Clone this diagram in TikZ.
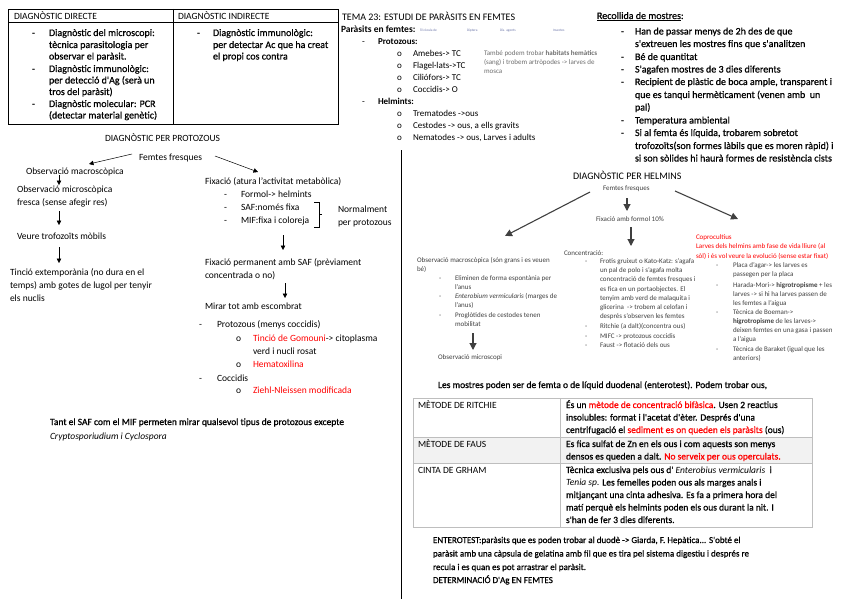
\documentclass[tikz,border=0pt]{standalone}
\usepackage{fontspec}
\setmainfont{Carlito}
\newfontfamily\hvfam[FakeBold=0.7]{Carlito}
\usetikzlibrary{arrows.meta}
\definecolor{redtxt}{RGB}{255,0,0}
\definecolor{helgray}{RGB}{64,64,64}
\definecolor{notegray}{RGB}{110,110,110}
\definecolor{tinyblue}{RGB}{110,120,170}
\definecolor{tabline}{RGB}{190,190,190}
\definecolor{rowfill}{RGB}{242,242,242}
\newcommand\Ln[5][]{\node[txt,#1] (#2) at (#3,#4) {#5};}
\newcommand\redt[1]{\textcolor{redtxt}{#1}}
\begin{document}
\begin{tikzpicture}[x=1pt,y=-1pt,
 txt/.style={anchor=base west,inner sep=0pt,outer sep=0pt,font=\fontsize{10}{12}\selectfont},
 hv/.style={font=\hvfam\fontsize{10}{12}\selectfont},
 hv9/.style={font=\hvfam\fontsize{9}{11}\selectfont},
 hv95/.style={font=\hvfam\fontsize{9.5}{11.5}\selectfont},
 f9/.style={font=\fontsize{9}{11}\selectfont},
 f95/.style={font=\fontsize{9.5}{11.5}\selectfont},
 f95b/.style={font=\fontsize{9.5}{11.5}\selectfont\bfseries},
 sm/.style={font=\fontsize{7}{8.5}\selectfont,text=helgray},
 note/.style={font=\fontsize{7}{8.5}\selectfont,text=notegray},
 tinyt/.style={font=\fontsize{3.5}{4}\selectfont,text=tinyblue},
 rtxt/.style={text=redtxt},
 arr/.style={-{Triangle[length=4.5pt,width=4.5pt]},line width=0.5pt},
 harr/.style={draw=helgray,-{Triangle[length=7pt,width=7pt]},line width=1.1pt},
 tabbox/.style={draw=tabline,line width=0.6pt},
 ]
\fill[white] (0,0) rectangle (848,599);
\useasboundingbox (0,0) rectangle (848,599);

% ---------- table 1 ----------
\draw[line width=0.6pt] (8,9) rectangle (338,124);
\draw[line width=0.6pt] (8,22) -- (338,22);
\draw[line width=0.6pt] (173,9) -- (173,124);
\Ln[f95]{hd}{14}{19.5}{DIAGNÒSTIC DIRECTE}
\Ln[f95]{hi}{178}{19.5}{DIAGNÒSTIC INDIRECTE}
\Ln[hv]{d1b}{32}{36}{-}
\Ln[hv]{d1a}{49}{36}{Diagnòstic del microscopi:}
\Ln[hv]{d1c}{49}{48}{tècnica parasitologia per}
\Ln[hv]{d1d}{49}{59.5}{observar el paràsit.}
\Ln[hv]{d2b}{32}{72}{-}
\Ln[hv]{d2a}{49}{72}{Diagnòstic immunològic:}
\Ln[hv]{d2c}{49}{83.5}{per detecció d'Ag (serà un}
\Ln[hv]{d2d}{49}{95}{tros del paràsit)}
\Ln[hv]{d3b}{32}{107}{-}
\Ln[hv]{d3a}{49}{107}{Diagnòstic molecular: PCR}
\Ln[hv]{d3c}{49}{118.5}{(detectar material genètic)}
\Ln[hv]{i1b}{197}{36}{-}
\Ln[hv]{i1a}{213}{36}{Diagnòstic immunològic:}
\Ln[hv]{i1c}{213}{48}{per detectar Ac que ha creat}
\Ln[hv]{i1d}{213}{59.5}{el propi cos contra}

% ---------- top middle ----------
\Ln{tema}{342}{20.5}{TEMA 23: ESTUDI DE PARÀSITS EN FEMTES}
\Ln[f95b]{pef}{341}{33}{Paràsits en femtes:}
\Ln[tinyt]{ty1}{420}{32}{Tricòcula de}
\Ln[tinyt]{ty2}{467}{32}{Diptera}
\Ln[tinyt]{ty3}{500}{32}{Dis. agents}
\Ln[tinyt]{ty4}{553}{32}{Insectes}
\Ln[f9]{pzb}{362}{45}{-}
\Ln[font=\fontsize{9}{11}\selectfont\bfseries]{pz}{378}{45}{Protozous:}
\Ln[f9]{am0}{397}{56.5}{o}
\Ln[f9]{am}{413}{56.5}{Amebes-> TC}
\Ln[f9]{fl0}{397}{68.5}{o}
\Ln[f9]{fl}{413}{68.5}{Flagel·lats->TC}
\Ln[f9]{ci0}{397}{80.5}{o}
\Ln[f9]{ci}{413}{80.5}{Ciliófors-> TC}
\Ln[f9]{co0}{397}{92.5}{o}
\Ln[f9]{co}{413}{92.5}{Coccidis-> O}
\Ln[f9]{heb}{362}{104.5}{-}
\Ln[font=\fontsize{9}{11}\selectfont\bfseries]{he}{378}{104.5}{Helmints:}
\Ln[f9]{tr0}{397}{116.5}{o}
\Ln[f9]{tr}{413}{116.5}{Trematodes ->ous}
\Ln[f9]{ce0}{397}{128.5}{o}
\Ln[f9]{ce}{413}{128.5}{Cestodes -> ous, a ells gravits}
\Ln[f9]{ne0}{397}{140.5}{o}
\Ln[f9]{ne}{413}{140.5}{Nematodes -> ous, Larves i adults}
\Ln[note]{nt1}{484}{55.5}{També podem trobar \textbf{habitats hemàtics}}
\Ln[note]{nt2}{484}{64.5}{(sang) i trobem artròpodes -> larves de}
\Ln[note]{nt3}{484}{73.5}{mosca}

% ---------- top right ----------
\Ln[hv]{rec}{597}{19}{\underline{Recollida de mostres}:}
\Ln[hv]{r1b}{621}{34.5}{-}
\Ln[hv]{r1}{635}{34.5}{Han de passar menys de 2h des de que}
\Ln[hv]{r1c}{635}{47}{s'extreuen les mostres fins que s'analitzen}
\Ln[hv]{r2b}{621}{60}{-}
\Ln[hv]{r2}{635}{60}{Bé de quantitat}
\Ln[hv]{r3b}{621}{72.5}{-}
\Ln[hv]{r3}{635}{72.5}{S'agafen mostres de 3 dies diferents}
\Ln[hv]{r4b}{621}{85}{-}
\Ln[hv]{r4}{635}{85}{Recipient de plàstic de boca ample, transparent i}
\Ln[hv]{r4c}{635}{98}{que es tanqui hermèticament (venen amb \ un}
\Ln[hv]{r4d}{635}{110.5}{pal)}
\Ln[hv]{r5b}{621}{123.5}{-}
\Ln[hv]{r5}{635}{123.5}{Temperatura ambiental}
\Ln[hv]{r6b}{621}{136}{-}
\Ln[hv]{r6}{635}{136}{Si al femta és líquida, trobarem sobretot}
\Ln[hv]{r6c}{635}{149}{trofozoïts(son formes làbils que es moren ràpid) i}
\Ln[hv]{r6d}{635}{161.5}{si son sòlides hi haurà formes de resistència cists}

% ---------- divider ----------
\draw[line width=0.6pt] (401,150) -- (401,599);

% ---------- diagnostic protozous ----------
\Ln[f95]{dpp}{105}{141.5}{DIAGNÒSTIC PER PROTOZOUS}
\Ln[f95]{ffp}{139}{160}{Femtes fresques}
\Ln[f95]{omac}{26}{174}{Observació macroscòpica}
\Ln[f95]{omic}{17}{192}{Observació microscòpica}
\Ln[f95]{omic2}{17}{205}{fresca (sense afegir res)}
\Ln[f95]{vtr}{17}{239.5}{Veure trofozoïts mòbils}
\Ln[f95]{tex1}{10}{275}{Tinció extemporània (no dura en el}
\Ln[f95]{tex2}{10}{288}{temps) amb gotes de lugol per tenyir}
\Ln[f95]{tex3}{10}{301}{els nuclis}
\coordinate (pa1s) at (132,154);
\coordinate (pa1e) at (89,164);
\coordinate (pa2s) at (215,156);
\coordinate (pa2e) at (258,172);
\draw[arr] (pa1s) -- (pa1e);
\draw[arr] (pa2s) -- (pa2e);
\coordinate (pv1s) at (59,175);
\coordinate (pv1e) at (59,185);
\coordinate (pv2s) at (59,211);
\coordinate (pv2e) at (59,225);
\coordinate (pv3s) at (59,247);
\coordinate (pv3e) at (59,263);
\draw[arr] (pv1s) -- (pv1e);
\draw[arr] (pv2s) -- (pv2e);
\draw[arr] (pv3s) -- (pv3e);

\Ln[f95]{fix}{205}{184}{Fixació (atura l'activitat metabòlica)}
\Ln[f95]{fx1b}{224}{197}{-}
\Ln[f95]{fx1}{241}{197}{Formol-> helmints}
\Ln[f95]{fx2b}{224}{210.5}{-}
\Ln[f95]{fx2}{241}{210.5}{SAF:només fixa}
\Ln[f95]{fx3b}{224}{223.5}{-}
\Ln[f95]{fx3}{241}{223.5}{MIF:fixa i coloreja}
\draw[line width=0.5pt] (314,202) -- (319,202) -- (319,227) -- (314,227);
\draw[line width=0.5pt] (319,214.5) -- (322,214.5);
\Ln[f95]{nor1}{338}{212}{Normalment}
\Ln[f95]{nor2}{338}{225}{per protozous}
\coordinate (pv4s) at (283,235);
\coordinate (pv4e) at (283,250);
\draw[arr] (pv4s) -- (pv4e);
\Ln[f95]{fp1}{205}{265}{Fixació permanent amb SAF (prèviament}
\Ln[f95]{fp2}{205}{278}{concentrada o no)}
\coordinate (pv5s) at (285,283);
\coordinate (pv5e) at (285,298);
\draw[arr] (pv5s) -- (pv5e);
\Ln[f95]{mir}{205}{309}{Mirar tot amb escombrat}
\Ln[f95]{pmb}{199}{327.5}{-}
\Ln[f95]{pm}{217}{327.5}{Protozous (menys coccidis)}
\Ln[f95]{tg0}{236}{341.5}{o}
\Ln[f95]{tg}{253}{341.5}{\redt{Tinció de Gomouni}-> citoplasma}
\Ln[f95]{tg2}{253}{354.5}{verd i nucli rosat}
\Ln[f95]{hx0}{236}{367.5}{o}
\Ln[f95]{hx}{253}{367.5}{\redt{Hematoxilina}}
\Ln[f95]{ccb}{199}{381}{-}
\Ln[f95]{cc}{217}{381}{Coccidis}
\Ln[f95]{zn0}{236}{393.5}{o}
\Ln[f95]{zn}{253}{393.5}{\redt{Ziehl-Nleissen modificada}}
\Ln[hv95]{tant}{50}{425}{Tant el SAF com el MIF permeten mirar qualsevol tipus de protozous excepte}
\Ln[f95]{cry}{50}{439}{\textit{Cryptosporiudium i Cyclospora}}

% ---------- diagnostic helmins ----------
\Ln{dph}{573}{179.5}{DIAGNÒSTIC PER HELMINS}
\Ln[sm]{ffh}{603}{190.5}{Femtes fresques}
\Ln[sm]{fxh}{596}{221.5}{Fixació amb formol 10\%}
\coordinate (ha1s) at (590,192);
\coordinate (ha1e) at (505,236);
\coordinate (ha2s) at (627,198);
\coordinate (ha2e) at (627,211);
\coordinate (ha3s) at (631,227);
\coordinate (ha3e) at (631,246);
\coordinate (ha4s) at (675,191);
\coordinate (ha4e) at (738,219);
\draw[harr] (ha1s) -- (ha1e);
\draw[harr] (ha2s) -- (ha2e);
\draw[harr] (ha3s) -- (ha3e);
\draw[harr] (ha4s) -- (ha4e);

\Ln[sm]{om1}{417}{262.5}{Observació macroscòpica (són grans i es veuen}
\Ln[sm]{om2}{417}{271.5}{bé)}
\Ln[sm]{ob1b}{439}{280.5}{-}
\Ln[sm]{ob1}{455}{280.5}{Eliminen de forma espontània per}
\Ln[sm]{ob1c}{455}{289.5}{l'anus}
\Ln[sm]{ob2b}{439}{298.5}{-}
\Ln[sm]{ob2}{455}{298.5}{\textit{Enterobium vermicularis} (marges de}
\Ln[sm]{ob2c}{455}{307.5}{l'anus)}
\Ln[sm]{ob3b}{439}{317.5}{-}
\Ln[sm]{ob3}{455}{317.5}{Proglòtides de cestodes tenen}
\Ln[sm]{ob3c}{455}{326.5}{mobilitat}
\coordinate (ha5s) at (473,333);
\coordinate (ha5e) at (473,350);
\draw[harr] (ha5s) -- (ha5e);
\Ln[sm]{omi}{438}{359}{Observació microscopi}

\Ln[sm]{con}{564}{255.5}{Concentració:}
\Ln[sm]{cn1b}{585}{263.5}{-}
\Ln[sm]{cn1}{600}{263.5}{Frotis gruixut o Kato-Katz: s'agafa}
\Ln[sm]{cn1c}{600}{272.7}{un pal de polo i s'agafa molta}
\Ln[sm]{cn1d}{600}{281.9}{concentració de femtes fresques i}
\Ln[sm]{cn1e}{600}{291.1}{es fica en un portaobjectes. El}
\Ln[sm]{cn1f}{600}{300.3}{tenyim amb verd de malaquita i}
\Ln[sm]{cn1g}{600}{309.5}{glicerina \ -> trobem al celofan i}
\Ln[sm]{cn1h}{600}{318.7}{després s'observen les femtes}
\Ln[sm]{cn2b}{585}{328.5}{-}
\Ln[sm]{cn2}{600}{328.5}{Ritchie (a dalt)(concentra ous)}
\Ln[sm]{cn3b}{585}{338}{-}
\Ln[sm]{cn3}{600}{338}{MIFC -> protozous coccidis}
\Ln[sm]{cn4b}{585}{347.5}{-}
\Ln[sm]{cn4}{600}{347.5}{Faust -> flotació dels ous}

\Ln[sm,rtxt]{cp1}{696}{239.5}{Coprocultius}
\Ln[sm,rtxt]{cp2}{696}{248.5}{Larves dels helmins amb fase de vida lliure (al}
\Ln[sm,rtxt]{cp3}{696}{258.5}{sòl) i és vol veure la evolució (sense estar fixat)}
\Ln[sm]{cq1b}{716}{267.5}{-}
\Ln[sm]{cq1}{733}{267.5}{Placa d'agar-> les larves es}
\Ln[sm]{cq1c}{733}{276.5}{passegen per la placa}
\Ln[sm]{cq2b}{716}{287}{-}
\Ln[sm]{cq2}{733}{287}{Harada-Mori-> \textbf{higrotropisme} + les}
\Ln[sm]{cq2c}{733}{296}{larves -> si hi ha larves passen de}
\Ln[sm]{cq2d}{733}{305}{les femtes a l'aigua}
\Ln[sm]{cq3b}{716}{314.5}{-}
\Ln[sm]{cq3}{733}{314.5}{Tècnica de Boeman->}
\Ln[sm]{cq3c}{733}{323}{\textbf{higrotropisme} de les larves->}
\Ln[sm]{cq3d}{733}{332.5}{deixen femtes en una gasa i passen}
\Ln[sm]{cq3e}{733}{341}{a l'aigua}
\Ln[sm]{cq4b}{716}{351.5}{-}
\Ln[sm]{cq4}{733}{351.5}{Tècnica de Baraket (igual que les}
\Ln[sm]{cq4c}{733}{360.5}{anteriors)}

% ---------- table 2 ----------
\Ln[hv95]{lesm}{438}{388}{Les mostres poden ser de femta o de líquid duodenal (enterotest). Podem trobar ous,}
\fill[rowfill] (413,437) rectangle (812,463);
\draw[tabbox] (413,398) rectangle (812,527);
\draw[tabbox] (413,437) -- (812,437);
\draw[tabbox] (413,463) -- (812,463);
\draw[tabbox] (560,398) -- (560,527);
\Ln[f95]{mr}{418}{408}{MÈTODE DE RITCHIE}
\Ln[hv95]{mr1}{566}{408}{És un \redt{mètode de concentració bifàsica}. Usen 2 reactius}
\Ln[hv95]{mr2}{566}{420.5}{insolubles: format i l'acetat d'èter. Després d'una}
\Ln[hv95]{mr3}{566}{433}{centrifugació el \redt{sediment es on queden els paràsits} (ous)}
\Ln[f95]{mf}{418}{447}{MÈTODE DE FAUS}
\Ln[hv95]{mf1}{566}{447}{Es fica sulfat de Zn en els ous i com aquests son menys}
\Ln[hv95]{mf2}{566}{459.5}{densos es queden a dalt. \redt{No serveix per ous operculats.}}
\Ln[f95]{cg}{418}{473}{CINTA DE GRHAM}
\Ln[hv95]{cg1}{566}{473}{Tècnica exclusiva pels ous d' {\normalfont\itshape Enterobius vermicularis} \ i}
\Ln[hv95]{cg2}{566}{485.5}{{\normalfont\itshape Tenia sp.} Les femelles poden ous als marges anals i}
\Ln[hv95]{cg3}{566}{498}{mitjançant una cinta adhesiva. Es fa a primera hora del}
\Ln[hv95]{cg4}{566}{510.5}{matí perquè els helmints poden els ous durant la nit. I}
\Ln[hv95]{cg5}{566}{523}{s'han de fer 3 dies diferents.}

% ---------- bottom ----------
\Ln[hv9]{en1}{433}{543}{ENTEROTEST:paràsits que es poden trobar al duodè -> Giarda, F. Hepàtica... S'obté el}
\Ln[hv9]{en2}{433}{556.5}{paràsit amb una càpsula de gelatina amb fil que es tira pel sistema digestiu i després re}
\Ln[hv9]{en3}{433}{570}{recula i es quan es pot arrastrar el paràsit.}
\Ln[hv9]{en4}{433}{583}{DETERMINACIÓ D'Ag EN FEMTES}
\end{tikzpicture}
\end{document}
